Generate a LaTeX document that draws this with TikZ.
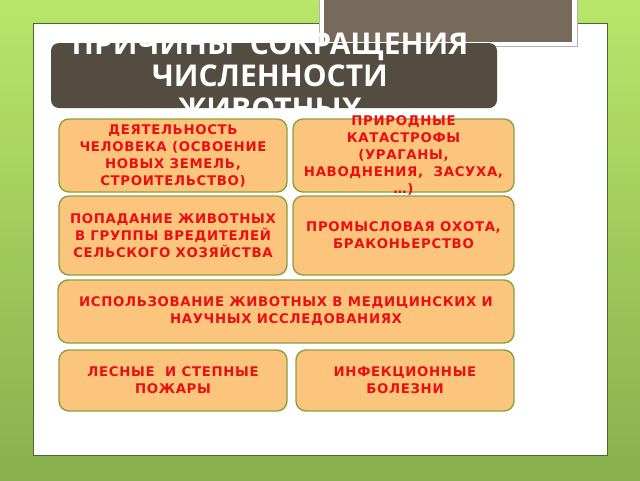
\documentclass[tikz,border=0pt]{standalone}
\usepackage{fontspec}
\newfontfamily\titlefont{Open Sans}
\newfontfamily\boxfont[LetterSpace=5]{DejaVu Sans}
\definecolor{bgtop}{RGB}{184,230,106}
\definecolor{bgbottom}{RGB}{136,176,78}
\definecolor{panelline}{RGB}{78,104,44}
\definecolor{framebrown}{RGB}{117,106,92}
\definecolor{titlebrown}{RGB}{84,76,65}
\definecolor{boxfill}{RGB}{251,197,125}
\definecolor{boxline}{RGB}{140,160,60}
\definecolor{causered}{RGB}{236,14,18}
\begin{document}
\begin{tikzpicture}[x=1pt, y=-1pt,
    causebox/.style={draw=boxline, line width=1.4pt, fill=boxfill, rounded corners=10pt,
      text=causered, align=center, inner sep=0pt,
      font=\boxfont\bfseries\fontsize{13.3}{17}\selectfont},
    titlebox/.style={fill=titlebrown, rounded corners=8pt, inner sep=0pt},
    titletext/.style={text=white, align=center, inner sep=0pt,
      font=\titlefont\bfseries\fontsize{30}{32.5}\selectfont}]
    \useasboundingbox (0,0) rectangle (640,480);
    % background and slide panel
    \shade[top color=bgtop, bottom color=bgbottom] (0,0) rectangle (640,480);
    \draw[panelline, fill=white, line width=0.8pt] (33,23) rectangle (607,455);
    \draw[gray!60, fill=white] (319,-2) rectangle (577,46);
    \fill[framebrown] (324,-2) rectangle (572,42);
    % title
    \node[titlebox, minimum width=446pt, minimum height=65pt] (titlebg) at (274,75.5) {};
    \node[titletext] (title) at (270,76) {ПРИЧИНЫ~ СОКРАЩЕНИЯ\\ЧИСЛЕННОСТИ\\ЖИВОТНЫХ};
    % causes
    \node[causebox, minimum width=228pt, minimum height=73pt] (activity) at (173,155.5)
      {ДЕЯТЕЛЬНОСТЬ\\ЧЕЛОВЕКА (ОСВОЕНИЕ\\НОВЫХ ЗЕМЕЛЬ,\\СТРОИТЕЛЬСТВО)};
    \node[causebox, minimum width=221pt, minimum height=73pt] (disasters) at (403.5,155.5)
      {\smash{\raisebox{-4pt}{\parbox[c]{220pt}{\centering ПРИРОДНЫЕ\\КАТАСТРОФЫ\\(УРАГАНЫ,\\НАВОДНЕНИЯ,~ ЗАСУХА,\\…)}}}};
    \node[causebox, minimum width=228pt, minimum height=79pt] (pests) at (173,235.5)
      {ПОПАДАНИЕ ЖИВОТНЫХ\\В ГРУППЫ ВРЕДИТЕЛЕЙ\\СЕЛЬСКОГО ХОЗЯЙСТВА};
    \node[causebox, minimum width=221pt, minimum height=79pt] (hunting) at (403.5,235.5)
      {ПРОМЫСЛОВАЯ ОХОТА,\\БРАКОНЬЕРСТВО};
    \node[causebox, minimum width=456pt, minimum height=63pt] (research) at (286,311.5)
      {ИСПОЛЬЗОВАНИЕ ЖИВОТНЫХ В МЕДИЦИНСКИХ И\\НАУЧНЫХ ИССЛЕДОВАНИЯХ};
    \node[causebox, minimum width=228pt, minimum height=61pt] (fires) at (173,380.5)
      {ЛЕСНЫЕ~ И СТЕПНЫЕ\\ПОЖАРЫ};
    \node[causebox, minimum width=218pt, minimum height=61pt] (diseases) at (405,380.5)
      {ИНФЕКЦИОННЫЕ\\БОЛЕЗНИ};
\end{tikzpicture}
\end{document}
